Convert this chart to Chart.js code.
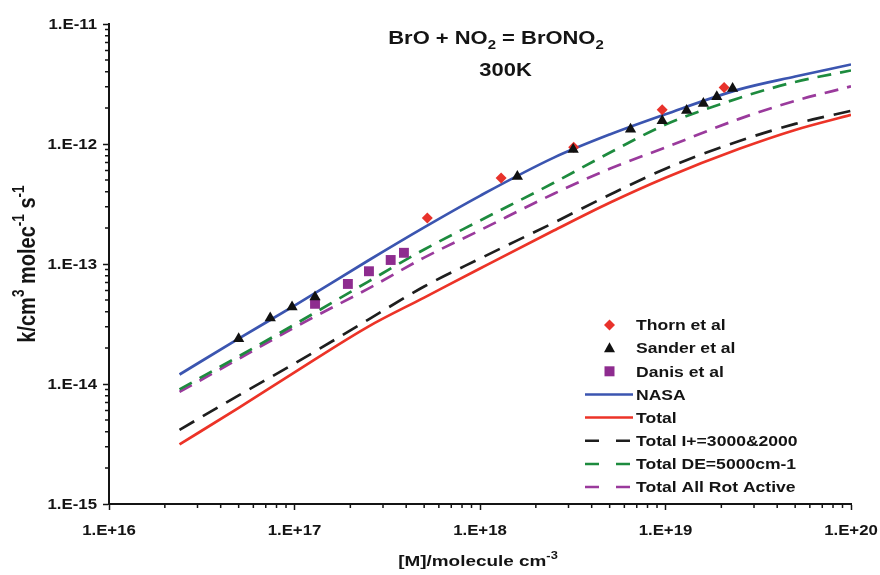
<!DOCTYPE html>
<html>
<head>
<meta charset="utf-8">
<title>BrO + NO2 = BrONO2</title>
<script src="https://cdn.jsdelivr.net/npm/chart.js@4.4.1/dist/chart.umd.min.js"></script>
<style>
  html, body { margin: 0; padding: 0; background: #fff; }
  canvas { display: block; }
</style>
</head>
<body>
<canvas id="chart" width="880" height="575"></canvas>
<script>
// [M] grid of the model curves, molecule cm-3
const pressures = [2.4e16, 5e16, 1e17, 2.5e17, 5e17, 1e18, 2.5e18, 5e18, 1e19, 2.5e19, 5e19, 1e20];

// k, cm3 molec-1 s-1
const nasa       = [1.2e-14, 2.39e-14, 4.5e-14, 1.07e-13, 2.02e-13, 3.7e-13, 7.7e-13, 1.2e-12, 1.77e-12, 2.85e-12, 3.65e-12, 4.6e-12];
const total      = [3.14e-15, 6.33e-15, 1.25e-14, 3.01e-14, 5.25e-14, 9.17e-14, 1.9e-13, 3.24e-13, 5.24e-13, 9.12e-13, 1.31e-12, 1.75e-12];
const totalIplus = [4.15e-15, 8.04e-15, 1.48e-14, 3.44e-14, 6.49e-14, 1.11e-13, 2.21e-13, 3.78e-13, 6.22e-13, 1.06e-12, 1.47e-12, 1.89e-12];
const totalDE    = [9.02e-15, 1.7e-14, 3.13e-14, 7.14e-14, 1.32e-13, 2.3e-13, 4.75e-13, 8.45e-13, 1.45e-12, 2.42e-12, 3.29e-12, 4.1e-12];
const totalRot   = [8.59e-15, 1.62e-14, 2.96e-14, 6.24e-14, 1.13e-13, 1.91e-13, 3.85e-13, 6.22e-13, 9.35e-13, 1.62e-12, 2.29e-12, 3.02e-12];

// measurements
const thornX  = [5.2e17, 1.3e18, 3.2e18, 9.6e18, 2.07e19];
const thornY  = [2.42e-13, 5.2e-13, 9.4e-13, 1.93e-12, 2.95e-12];
const sanderX = [5e16, 7.4e16, 9.7e16, 1.29e17, 1.59e18, 3.18e18, 6.48e18, 9.6e18, 1.3e19, 1.6e19, 1.89e19, 2.3e19];
const sanderY = [2.38e-14, 3.55e-14, 4.38e-14, 5.3e-14, 5.35e-13, 9e-13, 1.33e-12, 1.56e-12, 1.9e-12, 2.18e-12, 2.48e-12, 2.9e-12];
const danisX  = [1.29e17, 1.94e17, 2.52e17, 3.3e17, 3.89e17];
const danisY  = [4.66e-14, 6.82e-14, 8.7e-14, 1.08e-13, 1.24e-13];

const xDecades = [1e16, 1e17, 1e18, 1e19, 1e20];
const xTickLabels = ['1.E+16', '1.E+17', '1.E+18', '1.E+19', '1.E+20'];
const yDecades = [1e-15, 1e-14, 1e-13, 1e-12, 1e-11];
const yTickLabels = ['1.E-15', '1.E-14', '1.E-13', '1.E-12', '1.E-11'];

const FONT = '"Liberation Sans", Arial, sans-serif';
const INK = '#141414';

function points(xs, ys) {
  return xs.map((x, i) => ({ x, y: ys[i] }));
}

function curve(label, values, color, dash, order) {
  return {
    label,
    data: points(pressures, values),
    borderColor: color,
    backgroundColor: color,
    borderWidth: 2.7,
    borderDash: dash,
    pointRadius: 0,
    cubicInterpolationMode: 'monotone',
    order
  };
}

function markers(label, xs, ys, color, style, radius, order) {
  return {
    label,
    data: points(xs, ys),
    showLine: false,
    pointStyle: style,
    pointRadius: radius,
    backgroundColor: color,
    borderColor: color,
    borderWidth: 0,
    order
  };
}

// text with sub/superscripts, stretched a little wider like the original figure
function richText(ctx, parts, x, y, o) {
  const size = o.size;
  const fontFor = k => 'bold ' + (k ? size * 0.68 : size) + 'px ' + FONT;
  let w = 0;
  for (const [t, k] of parts) { ctx.font = fontFor(k); w += ctx.measureText(t).width; }
  ctx.save();
  ctx.translate(x, y);
  if (o.rot) ctx.rotate(o.rot);
  ctx.scale(o.sx || 1, o.sy || 1);
  ctx.fillStyle = INK;
  ctx.textAlign = 'left';
  ctx.textBaseline = 'alphabetic';
  let cx = o.align === 'center' ? -w / 2 : o.align === 'right' ? -w : 0;
  for (const [t, k] of parts) {
    ctx.font = fontFor(k);
    const dy = k === 'sup' ? -size * 0.45 : k === 'sub' ? size * 0.25 : 0;
    ctx.fillText(t, cx, dy);
    cx += ctx.measureText(t).width;
  }
  ctx.restore();
}

function drawMarker(ctx, style, x, y, color) {
  ctx.save();
  ctx.fillStyle = color;
  ctx.beginPath();
  if (style === 'rectRot') {
    ctx.moveTo(x, y - 5.5); ctx.lineTo(x + 5.5, y); ctx.lineTo(x, y + 5.5); ctx.lineTo(x - 5.5, y);
  } else if (style === 'triangle') {
    ctx.moveTo(x, y - 6); ctx.lineTo(x + 5.5, y + 4); ctx.lineTo(x - 5.5, y + 4);
  } else {
    ctx.rect(x - 5, y - 5, 10, 10);
  }
  ctx.closePath();
  ctx.fill();
  ctx.restore();
}

const decorations = {
  id: 'decorations',
  afterDraw(chart) {
    const ctx = chart.ctx;
    const xs = chart.scales.x, ys = chart.scales.y;
    const area = chart.chartArea;

    // minor ticks
    ctx.save();
    ctx.strokeStyle = INK;
    ctx.lineWidth = 1.5;
    ctx.beginPath();
    for (let d = 0; d < 4; d++) {
      for (let m = 2; m <= 9; m++) {
        const px = xs.getPixelForValue(m * xDecades[d]);
        ctx.moveTo(px, area.bottom);
        ctx.lineTo(px, area.bottom + 4);
        const py = ys.getPixelForValue(m * yDecades[d]);
        ctx.moveTo(area.left, py);
        ctx.lineTo(area.left - 4, py);
      }
    }
    ctx.stroke();
    ctx.restore();

    // tick labels
    xDecades.forEach((v, i) => {
      richText(ctx, [[xTickLabels[i], '']], xs.getPixelForValue(v), 535, { size: 14, sx: 1.2, align: 'center' });
    });
    yDecades.forEach((v, i) => {
      richText(ctx, [[yTickLabels[i], '']], 97, ys.getPixelForValue(v) + 5, { size: 14, sx: 1.2, align: 'right' });
    });

    // axis titles
    richText(ctx, [['[M]/molecule cm', ''], ['-3', 'sup']], 478, 566, { size: 15.5, sx: 1.22, align: 'center' });
    richText(ctx, [['k/cm', ''], ['3', 'sup'], [' molec', ''], ['-1', 'sup'], [' s', ''], ['-1', 'sup']],
      35, (area.top + area.bottom) / 2, { size: 20, sy: 1.2, rot: -Math.PI / 2, align: 'center' });

    // reaction title
    richText(ctx, [['BrO + NO', ''], ['2', 'sub'], [' = BrONO', ''], ['2', 'sub']], 496, 44, { size: 18, sx: 1.22, align: 'center' });
    richText(ctx, [['300K', '']], 505.5, 76, { size: 18, sx: 1.22, align: 'center' });

    // legend
    chart.data.datasets.forEach((ds, i) => {
      const y = 325 + i * 23.15;
      if (ds.showLine === false) {
        drawMarker(ctx, ds.pointStyle, 609.5, y, ds.backgroundColor);
      } else {
        ctx.save();
        ctx.strokeStyle = ds.borderColor;
        ctx.lineWidth = 2.5;
        ctx.setLineDash(ds.borderDash.length ? [14, 17] : []);
        ctx.beginPath();
        ctx.moveTo(585, y);
        ctx.lineTo(633, y);
        ctx.stroke();
        ctx.restore();
      }
      richText(ctx, [[ds.label, '']], 636, y + 5.3, { size: 15, sx: 1.17 });
    });
  }
};

function logAxis(min, max, decades, fit) {
  return {
    type: 'logarithmic',
    min,
    max,
    afterBuildTicks: scale => { scale.ticks = decades.map(v => ({ value: v, major: true })); },
    afterFit: fit,
    ticks: { display: false },
    grid: { drawOnChartArea: false, drawTicks: true, tickLength: 6, tickWidth: 1.5, color: INK, tickColor: INK },
    border: { display: true, color: INK, width: 2 }
  };
}

const ctx = document.getElementById('chart').getContext('2d');
const chart = new Chart(ctx, {
  type: 'line',
  data: {
    datasets: [
      markers('Thorn et al', thornX, thornY, '#e8322b', 'rectRot', 5.5, 1),
      markers('Sander et al', sanderX, sanderY, '#111111', 'triangle', 6.5, 0),
      markers('Danis et al', danisX, danisY, '#8e2c8f', 'rect', 7, 2),
      curve('NASA', nasa, '#3b55b0', [], 3),
      curve('Total', total, '#ec3327', [], 4),
      curve('Total I+=3000&2000', totalIplus, '#1e1e1e', [17, 10], 5),
      curve('Total DE=5000cm-1', totalDE, '#1d8b3e', [14, 9], 6),
      curve('Total All Rot Active', totalRot, '#9a3a9c', [14, 9], 7)
    ]
  },
  options: {
    responsive: false,
    animation: false,
    events: [],
    layout: { padding: { top: 24, right: 29, left: 0, bottom: 0 } },
    plugins: { legend: { display: false }, tooltip: { enabled: false } },
    scales: {
      x: logAxis(1e16, 1e20, xDecades, scale => { scale.height = 71; }),
      y: logAxis(1e-15, 1e-11, yDecades, scale => { scale.width = 109; })
    }
  },
  plugins: [decorations]
});
</script>
</body>
</html>
